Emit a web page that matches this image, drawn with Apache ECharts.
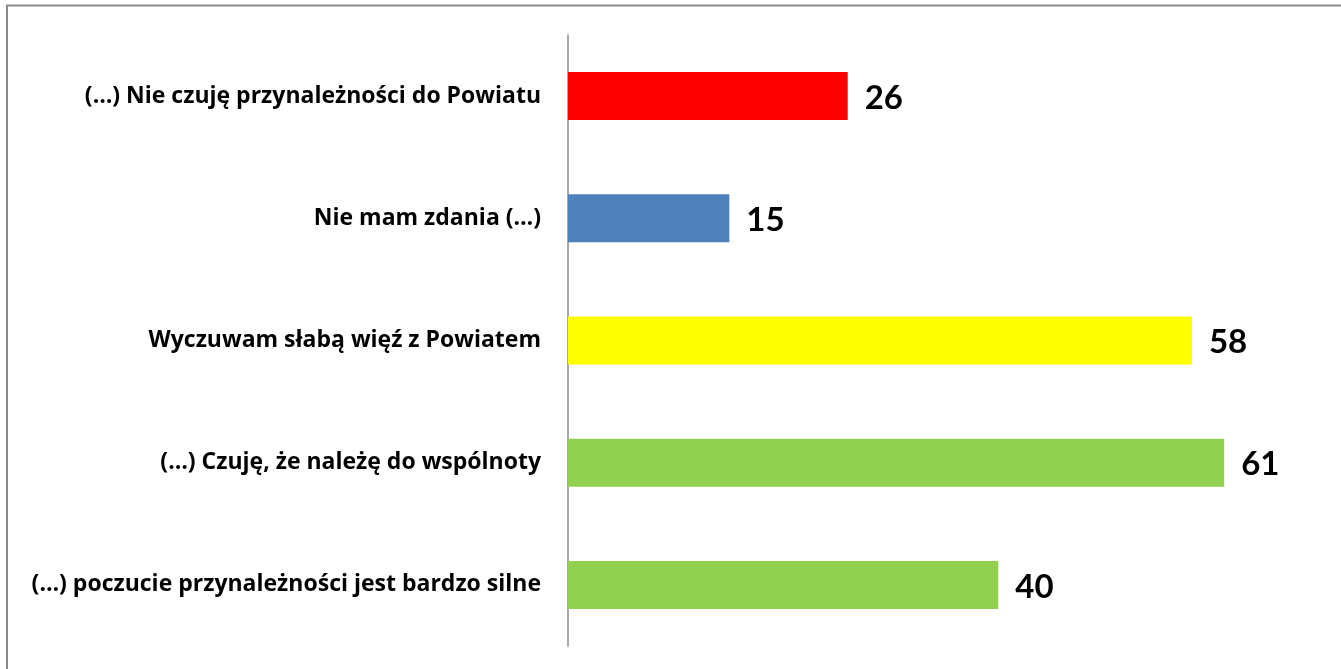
<!DOCTYPE html>
<html>
<head>
<meta charset="utf-8">
<script src="https://cdn.jsdelivr.net/npm/echarts@6/dist/echarts.min.js"></script>
<style>
  html, body { margin: 0; padding: 0; background: #fff; }
  #chart-container { width: 1341px; height: 669px; }
</style>
</head>
<body>
<div id="chart-container"></div>
<script>
// data
const categories = [
  "(…) Nie czuję przynależności do Powiatu",
  "Nie mam zdania (…)",
  "Wyczuwam słabą więź z Powiatem",
  "(…) Czuję, że należę do wspólnoty",
  "(…) poczucie przynależności jest bardzo silne",
];
const values = [26, 15, 58, 61, 40];
const barColors = ["#ff0000", "#4f81bd", "#ffff00", "#92d050", "#92d050"];

const dom = document.getElementById("chart-container");
const chart = echarts.init(dom, null, { renderer: "canvas" });

const option = {
  animation: false,
  backgroundColor: "#fff",
  // outer frame (only top and left edges fall inside the picture)
  graphic: [
    {
      type: "rect",
      shape: { x: 7, y: 5.5, width: 1400, height: 720 },
      style: { fill: "none", stroke: "#8c8c8c", lineWidth: 2 },
      silent: true,
    },
  ],
  grid: { left: 568, right: 20, top: 35, bottom: 23 },
  xAxis: {
    type: "value",
    min: 0,
    max: 70,
    show: false,
  },
  yAxis: {
    type: "category",
    inverse: true,
    data: categories,
    axisLine: { show: true, lineStyle: { color: "#8c8c8c", width: 1.5 } },
    axisTick: { show: false },
    axisLabel: {
      margin: 27,
      color: "#000",
      fontFamily: "Open Sans",
      fontWeight: "bold",
      fontSize: 23,
    },
  },
  series: [
    {
      type: "bar",
      barWidth: 48,
      data: values.map((v, i) => ({ value: v, itemStyle: { color: barColors[i] } })),
      label: {
        show: true,
        position: "right",
        distance: 17,
        color: "#000",
        fontFamily: "Lato",
        fontWeight: "bold",
        fontSize: 33,
        offset: [0, 2],
      },
    },
  ],
};

chart.setOption(option);
window.addEventListener("resize", () => chart.resize());
</script>
</body>
</html>
